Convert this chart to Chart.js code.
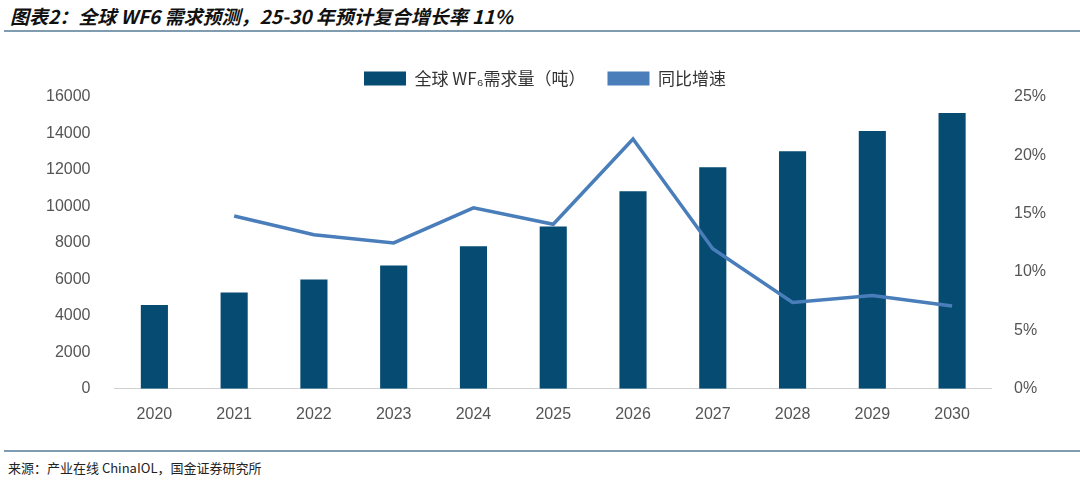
<!DOCTYPE html>
<html><head><meta charset="utf-8">
<script src="https://cdn.jsdelivr.net/npm/chart.js@4"></script>
<style>
body{margin:0;width:1080px;height:480px;background:#fff;position:relative;overflow:hidden;font-family:"Noto Sans CJK SC",sans-serif}
#title{position:absolute;left:10px;top:2px;font-size:19px;font-weight:bold;font-style:italic;color:#111}
.rule{position:absolute;left:4px;width:1076px;height:2px;background:#7f9cb0}
#src{position:absolute;left:8px;top:458px;font-size:13px;color:#222}
#wrap{position:absolute;left:0;top:48px;width:1080px;height:390px}
</style></head><body>
<div id="title">图表2：全球 WF6 需求预测，25-30 年预计复合增长率 11%</div>
<div class="rule" style="top:30px"></div>
<div class="rule" style="top:450px"></div>
<div id="src">来源：产业在线 ChinaIOL，国金证券研究所</div>
<div id="wrap"><canvas id="c"></canvas></div>
<script>
const years = ['2020','2021','2022','2023','2024','2025','2026','2027','2028','2029','2030'];
const demand = [4600, 5280, 5990, 6760, 7810, 8900, 10830, 12150, 13030, 14130, 15120];
const growth = [null, 14.8, 13.2, 12.5, 15.5, 14.1, 21.4, 12.0, 7.4, 8.0, 7.1];

const tickFont = { family: 'Arial, "Liberation Sans", sans-serif', size: 16 };
new Chart(document.getElementById('c'), {
  data: {
    labels: years,
    datasets: [
      { type: 'line', label: '同比增速', data: growth, yAxisID: 'y1', borderColor: '#4a7ebb',
        backgroundColor: '#4a7ebb', borderWidth: 3.5, pointRadius: 0, tension: 0, order: 0 },
      { type: 'bar', label: '全球 WF₆需求量（吨）', data: demand, yAxisID: 'y', backgroundColor: '#054b72',
        barPercentage: 0.34, categoryPercentage: 1, order: 1 },
    ],
  },
  options: {
    responsive: true, maintainAspectRatio: false, animation: false,
    layout: { padding: { left: 30, right: 20, top: 0, bottom: 6 } },
    plugins: {
      legend: { labels: { color: '#333', font: { family: '"Noto Sans CJK SC", sans-serif', size: 17 },
        boxWidth: 42, boxHeight: 14, padding: 22,
        generateLabels(chart) {
          return chart.data.datasets.map((d, i) => ({ text: d.label, fillStyle: d.type === 'line' ? d.borderColor : d.backgroundColor,
            strokeStyle: 'transparent', lineWidth: 0, datasetIndex: i, fontColor: '#333' })).reverse();
        } } },
      tooltip: { enabled: false },
    },
    scales: {
      x: { grid: { display: false, drawTicks: true }, border: { color: '#d0d0d0' },
        ticks: { color: '#555', font: tickFont, padding: 8 } },
      y: { min: 0, max: 16000, grid: { display: false }, border: { display: false },
        ticks: { stepSize: 2000, color: '#555', font: tickFont, padding: 16, callback: v => String(v) } },
      y1: { position: 'right', min: 0, max: 25, grid: { display: false }, border: { display: false },
        ticks: { stepSize: 5, color: '#555', font: tickFont, padding: 14, callback: v => v + '%' } },
    },
  },
});
</script>
</body></html>
